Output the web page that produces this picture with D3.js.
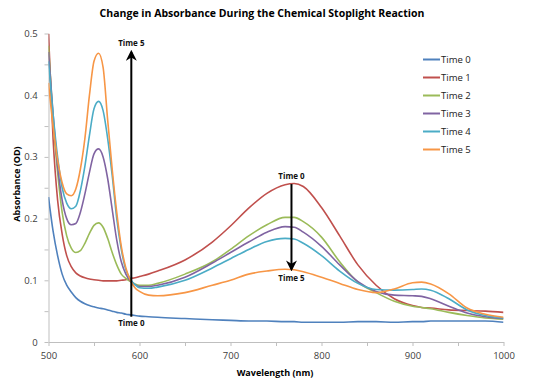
<!DOCTYPE html>
<meta charset="utf-8">
<style>
	body { margin: 0; background: #fff; }
	text { font-family: "Open Sans", "Liberation Sans", sans-serif; }
	.axis path, .axis line { stroke: #bfbfbf; }
	.axis text { fill: #404040; font-size: 9.5px; }
	.line { fill: none; stroke-width: 1.6px; }
	.note { font-size: 8px; font-weight: bold; fill: #111; }
</style>
<svg width="536" height="389"></svg>
<script src="https://cdn.jsdelivr.net/npm/d3@7"></script>
<script>

// wavelengths (nm) shared by every series
var wavelengths = [500,505,510,515,520,525,530,535,540,545,550,555,560,565,570,575,580,585,590,595,600,610,620,650,680,700,720,740,760,770,780,800,820,840,860,880,900,910,920,940,960,980,1000];

var time0 = [0.235,0.18,0.14,0.11,0.092,0.081,0.072,0.066,0.062,0.059,0.057,0.055,0.054,0.052,0.05,0.048,0.047,0.045,0.044,0.043,0.042,0.041,0.04,0.038,0.036,0.035,0.034,0.034,0.033,0.033,0.032,0.032,0.032,0.033,0.033,0.032,0.033,0.033,0.034,0.034,0.034,0.034,0.032];
var time1 = [0.5,0.33,0.23,0.175,0.14,0.122,0.112,0.107,0.104,0.102,0.101,0.1,0.099,0.099,0.099,0.099,0.1,0.101,0.103,0.104,0.106,0.11,0.115,0.133,0.162,0.188,0.217,0.241,0.255,0.257,0.252,0.218,0.172,0.125,0.092,0.07,0.059,0.056,0.055,0.052,0.051,0.05,0.048];
var time2 = [0.48,0.36,0.275,0.21,0.172,0.152,0.145,0.148,0.16,0.176,0.189,0.193,0.186,0.168,0.145,0.125,0.11,0.103,0.098,0.094,0.092,0.092,0.095,0.11,0.13,0.15,0.172,0.19,0.202,0.202,0.195,0.17,0.13,0.097,0.08,0.066,0.058,0.056,0.054,0.048,0.043,0.039,0.037];
var time3 = [0.47,0.37,0.285,0.23,0.2,0.19,0.192,0.21,0.24,0.275,0.305,0.313,0.3,0.265,0.215,0.165,0.13,0.11,0.099,0.093,0.09,0.09,0.092,0.105,0.128,0.145,0.162,0.178,0.187,0.186,0.178,0.155,0.125,0.098,0.082,0.076,0.075,0.074,0.07,0.058,0.047,0.041,0.038];
var time4 = [0.455,0.37,0.3,0.25,0.225,0.216,0.22,0.245,0.285,0.335,0.378,0.39,0.375,0.33,0.27,0.2,0.15,0.117,0.102,0.093,0.088,0.087,0.089,0.1,0.12,0.135,0.15,0.163,0.168,0.167,0.16,0.14,0.115,0.095,0.085,0.084,0.085,0.086,0.084,0.07,0.052,0.043,0.039];
var time5 = [0.42,0.35,0.295,0.258,0.24,0.237,0.248,0.28,0.33,0.4,0.455,0.468,0.445,0.36,0.28,0.21,0.155,0.12,0.1,0.088,0.082,0.076,0.075,0.08,0.092,0.1,0.11,0.115,0.118,0.117,0.114,0.105,0.095,0.085,0.08,0.086,0.096,0.097,0.094,0.078,0.055,0.045,0.04];

var seriesNames = ["Time 0","Time 1","Time 2","Time 3","Time 4","Time 5"];
var seriesValues = [time0, time1, time2, time3, time4, time5];
var colors = ["#4f81bd","#c0504d","#9bbb59","#8064a2","#4bacc6","#f79646"];

var xTicks = [500,550,600,650,700,750,800,850,900,950,1000];
var yTicks = [0,0.05,0.1,0.15,0.2,0.25,0.3,0.35,0.4,0.45,0.5];

// annotation arrows: wavelength, from value, to value, label at start, label at end
var arrows = [
	{w: 591, from: 0.041, to: 0.47, startLabel: "Time 0", endLabel: "Time 5"},
	{w: 767, from: 0.256, to: 0.118, startLabel: "Time 0", endLabel: "Time 5"}
];

var svg = d3.select("svg"),
	margin = {top: 33.5, right: 32.5, bottom: 47, left: 48.5},
	width = svg.attr("width") - margin.left - margin.right,
	height = svg.attr("height") - margin.top - margin.bottom,
	g = svg.append("g").attr("transform", "translate(" + margin.left + "," + margin.top + ")");

var x = d3.scaleLinear().domain([500, 1000]).range([0, width]),
	y = d3.scaleLinear().domain([0, 0.5]).range([height, 0]);

svg.append("defs").append("clipPath").attr("id", "clip")
	.append("rect").attr("x", 0).attr("y", 0).attr("width", width).attr("height", height);

svg.append("defs").append("marker")
	.attr("id", "head")
	.attr("viewBox", "0 0 10 10")
	.attr("refX", 8).attr("refY", 5)
	.attr("markerWidth", 5.5).attr("markerHeight", 5.5)
	.attr("orient", "auto")
	.append("path")
	.attr("d", "M0,0 L10,5 L0,10 L3,5 Z")
	.attr("fill", "#000");

g.append("g")
	.attr("class", "axis axis--x")
	.attr("transform", "translate(0," + height + ")")
	.call(d3.axisBottom(x).tickValues(xTicks).tickSize(4).tickSizeOuter(0)
		.tickFormat(function(d) { return d % 100 === 0 ? d : ""; }))
	.selectAll("text").attr("dy", "1.1em");

g.append("g")
	.attr("class", "axis axis--y")
	.call(d3.axisLeft(y).tickValues(yTicks).tickSize(4).tickSizeOuter(0)
		.tickFormat(function(d) { return Math.round(d * 20) % 2 === 0 ? d3.format("")(+d.toFixed(1)) : ""; }))
	.selectAll("text").attr("dx", "-0.4em");

var line = d3.line()
	.curve(d3.curveMonotoneX)
	.x(function(d) { return x(d[0]); })
	.y(function(d) { return y(d[1]); });

g.append("g").attr("clip-path", "url(#clip)")
	.selectAll(".line")
	.data(seriesValues)
	.enter().append("path")
	.attr("class", "line")
	.attr("d", function(vals) { return line(wavelengths.map(function(w, i) { return [w, vals[i]]; })); })
	.style("stroke", function(d, i) { return colors[i]; });

// arrows and their labels
var arrow = g.selectAll(".arrow").data(arrows).enter().append("g").attr("class", "arrow");

arrow.append("line")
	.attr("x1", function(d) { return x(d.w); })
	.attr("x2", function(d) { return x(d.w); })
	.attr("y1", function(d) { return y(d.from); })
	.attr("y2", function(d) { return y(d.to); })
	.attr("stroke", "#000")
	.attr("stroke-width", 2)
	.attr("marker-end", "url(#head)");

arrow.append("text")
	.attr("class", "note")
	.attr("text-anchor", "middle")
	.attr("x", function(d) { return x(d.w); })
	.attr("y", function(d) { return d.from < d.to ? y(d.from) + 9 : y(d.from) - 5; })
	.text(function(d) { return d.startLabel; });

arrow.append("text")
	.attr("class", "note")
	.attr("text-anchor", "middle")
	.attr("x", function(d) { return x(d.w); })
	.attr("y", function(d) { return d.from < d.to ? y(d.to) - 6 : y(d.to) + 12; })
	.text(function(d) { return d.endLabel; });

// legend
var legend = svg.selectAll(".legend")
	.data(seriesNames)
	.enter().append("g")
	.attr("class", "legend")
	.attr("transform", function(d, i) { return "translate(423," + (59.5 + i * 18) + ")"; });

legend.append("line")
	.attr("x1", 0).attr("x2", 17)
	.attr("stroke-width", 2)
	.attr("stroke", function(d, i) { return colors[i]; });

legend.append("text")
	.attr("x", 18)
	.attr("dy", "0.35em")
	.style("font-size", "9.5px")
	.style("fill", "#222")
	.text(function(d) { return d; });

svg.append("text")
	.attr("x", 262).attr("y", 17)
	.attr("text-anchor", "middle")
	.style("font-size", "10.5px")
	.style("font-weight", "bold")
	.text("Change in Absorbance During the Chemical Stoplight Reaction");

svg.append("text")
	.attr("x", 275).attr("y", 376)
	.attr("text-anchor", "middle")
	.style("font-size", "9px")
	.style("font-weight", "bold")
	.text("Wavelength (nm)");

svg.append("text")
	.attr("transform", "translate(20,184) rotate(-90)")
	.attr("text-anchor", "middle")
	.style("font-size", "9px")
	.style("font-weight", "bold")
	.text("Absorbance (OD)");

</script>
